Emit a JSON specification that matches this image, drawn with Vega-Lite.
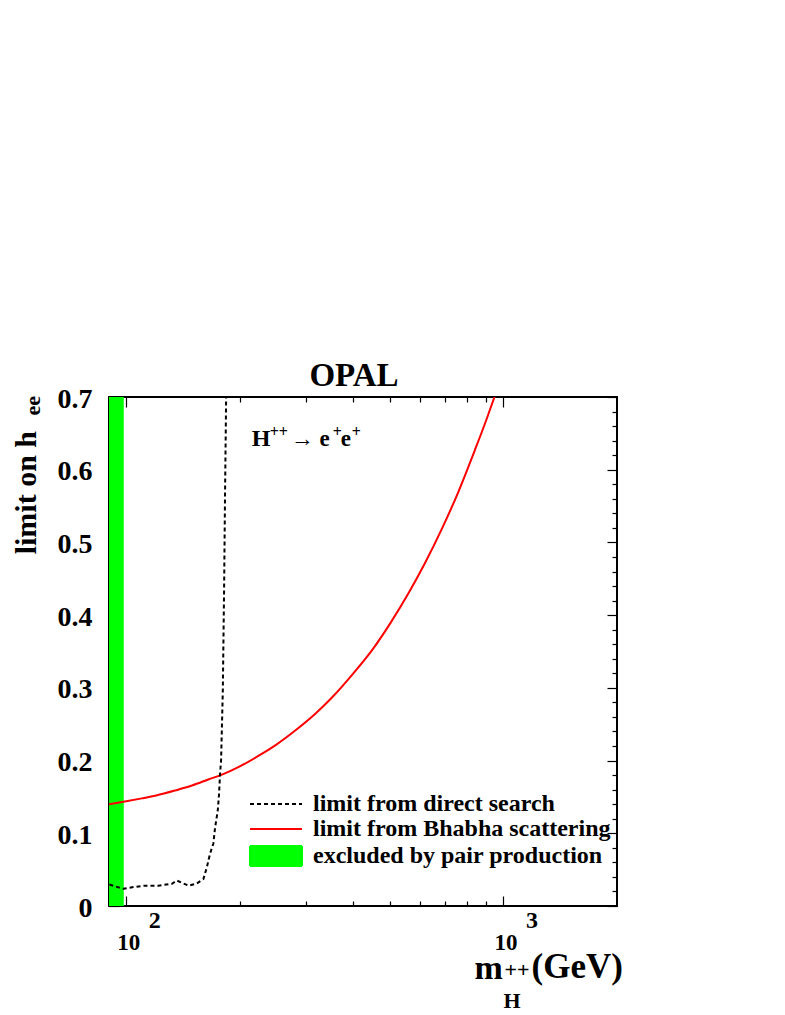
{
  "$schema": "https://vega.github.io/schema/vega-lite/v6.json",
  "autosize": "none",
  "width": 508,
  "height": 509,
  "padding": {"left": 109, "top": 397, "right": 168, "bottom": 109},
  "background": "white",
  "config": {
    "view": {"stroke": "black", "strokeWidth": 2},
    "font": "Liberation Serif",
    "axis": {
      "labelFont": "Liberation Serif",
      "labelFontWeight": "bold",
      "labelColor": "black",
      "titleFont": "Liberation Serif",
      "titleFontWeight": "bold",
      "titleColor": "black",
      "tickColor": "black",
      "tickWidth": 1.2,
      "grid": false,
      "domain": false,
      "labelOverlap": false,
      "labelFlush": false,
      "zindex": 1
    },
    "text": {"font": "Liberation Serif", "fontWeight": "bold", "align": "left", "baseline": "alphabetic", "color": "black"}
  },
  "title": {
    "text": "OPAL",
    "font": "Liberation Serif",
    "fontWeight": "bold",
    "fontSize": 33,
    "color": "black",
    "anchor": "middle",
    "baseline": "alphabetic",
    "offset": 10,
    "dx": -9,
    "dy": 44
  },
  "datasets": {
    "band": [{"m0": 90, "m1": 98.5}],
    "bhabha": [
      {"m": 90, "h": 0.140},
      {"m": 100, "h": 0.144},
      {"m": 110, "h": 0.148},
      {"m": 120, "h": 0.152},
      {"m": 135, "h": 0.159},
      {"m": 150, "h": 0.166},
      {"m": 165, "h": 0.174},
      {"m": 180, "h": 0.181},
      {"m": 200, "h": 0.192},
      {"m": 225, "h": 0.207},
      {"m": 250, "h": 0.222},
      {"m": 280, "h": 0.241},
      {"m": 315, "h": 0.263},
      {"m": 350, "h": 0.286},
      {"m": 400, "h": 0.320},
      {"m": 450, "h": 0.353},
      {"m": 500, "h": 0.388},
      {"m": 560, "h": 0.430},
      {"m": 620, "h": 0.472},
      {"m": 690, "h": 0.521},
      {"m": 760, "h": 0.570},
      {"m": 840, "h": 0.627},
      {"m": 900, "h": 0.668},
      {"m": 948, "h": 0.701}
    ],
    "direct": [
      {"m": 90.2, "h": 0.0296},
      {"m": 93.5, "h": 0.027},
      {"m": 98.4, "h": 0.0236},
      {"m": 104.5, "h": 0.026},
      {"m": 112.3, "h": 0.028},
      {"m": 121.7, "h": 0.028},
      {"m": 132.1, "h": 0.0305},
      {"m": 136.2, "h": 0.035},
      {"m": 141.8, "h": 0.031},
      {"m": 146.2, "h": 0.028},
      {"m": 153.8, "h": 0.031},
      {"m": 160.1, "h": 0.037},
      {"m": 163.5, "h": 0.053},
      {"m": 166.8, "h": 0.072},
      {"m": 170.2, "h": 0.086},
      {"m": 172.0, "h": 0.108},
      {"m": 174.8, "h": 0.131},
      {"m": 176.2, "h": 0.154},
      {"m": 177.3, "h": 0.182},
      {"m": 178.4, "h": 0.200},
      {"m": 180.3, "h": 0.296},
      {"m": 181.7, "h": 0.434},
      {"m": 182.8, "h": 0.571},
      {"m": 184.0, "h": 0.700}
    ]
  },
  "layer": [
    {
      "data": {"name": "band"},
      "mark": {"type": "rect"},
      "encoding": {
        "x": {
          "field": "m0", "type": "quantitative",
          "scale": {"type": "log", "domain": [90, 2000], "nice": false},
          "axis": {
            "orient": "bottom", "values": [100, 1000], "labelExpr": "'10'",
            "tickSize": -10, "labelPadding": 53.5, "labelBaseline": "alphabetic",
            "labelAlign": "center", "labelOffset": 2, "labelFontSize": 23,
            "title": "m", "titleFontSize": 34, "titleX": 365, "titleY": 72,
            "titleAlign": "left", "titleBaseline": "alphabetic"
          }
        },
        "x2": {"field": "m1"},
        "y": {
          "datum": 0, "type": "quantitative",
          "scale": {"domain": [0, 0.7], "nice": false},
          "axis": {
            "orient": "left", "values": [0, 0.1, 0.2, 0.3, 0.4, 0.5, 0.6, 0.7],
            "labelExpr": "datum.value == 0 ? '0' : format(datum.value, '.1f')",
            "tickSize": -10, "labelPadding": 27, "labelFontSize": 28,
            "labelBaseline": "middle", "labelOffset": 2,
            "title": "limit on h", "titleFontSize": 30, "titleAngle": 270,
            "titleAlign": "right", "titleBaseline": "alphabetic",
            "titleX": -74, "titleY": 33.5
          }
        },
        "y2": {"datum": 0.7},
        "color": {
          "datum": "excluded by pair production", "type": "nominal",
          "scale": {
            "domain": ["limit from direct search", "limit from Bhabha scattering", "excluded by pair production"],
            "range": ["#000000", "#ff0000", "#00ff00"]
          },
          "legend": {
            "orient": "none", "legendX": 129, "legendY": 395, "title": null,
            "symbolSize": 400, "labelOffset": 51, "labelFontSize": 24,
            "labelFont": "Liberation Serif", "labelFontWeight": "bold",
            "labelColor": "black", "labelLimit": 500, "rowPadding": 1,
            "padding": 0,
            "encode": {
              "symbols": {
                "update": {
                  "shape": {"signal": "datum.value === 'excluded by pair production' ? 'M0,-1H5.2V1H0Z' : 'M0,0H5.2'"},
                  "fill": {"signal": "datum.value === 'excluded by pair production' ? '#00ff00' : 'transparent'"},
                  "stroke": {"signal": "datum.value === 'limit from Bhabha scattering' ? '#ff0000' : (datum.value === 'limit from direct search' ? '#000000' : 'transparent')"},
                  "strokeDash": {"signal": "datum.value === 'limit from direct search' ? [4, 3] : [1, 0]"},
                  "strokeWidth": {"value": 2},
                  "opacity": {"value": 1}
                }
              }
            }
          }
        }
      }
    },
    {
      "data": {"name": "bhabha"},
      "mark": {"type": "line", "strokeWidth": 2, "interpolate": "monotone", "clip": true},
      "encoding": {
        "x": {
          "field": "m", "type": "quantitative",
          "axis": {
            "orient": "bottom", "values": [200, 300, 400, 500, 600, 700, 800, 900],
            "tickSize": -5, "labels": false,
            "title": "H", "titleFontSize": 22, "titleX": 394, "titleY": 101.5,
            "titleAlign": "left", "titleBaseline": "alphabetic"
          }
        },
        "y": {
          "field": "h", "type": "quantitative",
          "axis": {
            "orient": "left",
            "values": [0.02, 0.04, 0.06, 0.08, 0.12, 0.14, 0.16, 0.18, 0.22, 0.24, 0.26, 0.28, 0.32, 0.34, 0.36, 0.38, 0.42, 0.44, 0.46, 0.48, 0.52, 0.54, 0.56, 0.58, 0.62, 0.64, 0.66, 0.68],
            "tickSize": -5, "labels": false,
            "title": "ee", "titleFontSize": 22, "titleAngle": 270,
            "titleAlign": "right", "titleBaseline": "alphabetic",
            "titleX": -70, "titleY": -1.5
          }
        },
        "color": {"datum": "limit from Bhabha scattering", "type": "nominal"}
      }
    },
    {
      "data": {"name": "direct"},
      "mark": {"type": "line", "strokeWidth": 2, "strokeDash": [4, 3], "clip": true},
      "encoding": {
        "x": {
          "field": "m", "type": "quantitative",
          "axis": {
            "orient": "top", "values": [100, 1000],
            "tickSize": -10, "labels": false, "title": null
          }
        },
        "y": {
          "field": "h", "type": "quantitative",
          "axis": {
            "orient": "right", "values": [0, 0.1, 0.2, 0.3, 0.4, 0.5, 0.6, 0.7],
            "tickSize": -10, "labels": false,
            "title": "(GeV)", "titleFontSize": 35, "titleAngle": 0,
            "titleX": -86, "titleY": 580.5,
            "titleAlign": "left", "titleBaseline": "alphabetic"
          }
        },
        "color": {"datum": "limit from direct search", "type": "nominal"}
      }
    },
    {
      "data": {"name": "direct"},
      "mark": {"type": "point", "opacity": 0},
      "encoding": {
        "x": {
          "field": "m", "type": "quantitative",
          "axis": {
            "orient": "top", "values": [200, 300, 400, 500, 600, 700, 800, 900],
            "tickSize": -5, "labels": false, "title": null
          }
        },
        "y": {
          "field": "h", "type": "quantitative",
          "axis": {
            "orient": "right",
            "values": [0.02, 0.04, 0.06, 0.08, 0.12, 0.14, 0.16, 0.18, 0.22, 0.24, 0.26, 0.28, 0.32, 0.34, 0.36, 0.38, 0.42, 0.44, 0.46, 0.48, 0.52, 0.54, 0.56, 0.58, 0.62, 0.64, 0.66, 0.68],
            "tickSize": -5, "labels": false, "title": null
          }
        }
      }
    },
    {
      "data": {"name": "bhabha"},
      "mark": {"type": "point", "opacity": 0},
      "encoding": {
        "x": {
          "field": "m", "type": "quantitative",
          "axis": {
            "orient": "bottom", "values": [100, 1000], "ticks": false, "tickSize": 0,
            "labelExpr": "datum.value == 100 ? '2' : '3'",
            "labelPadding": 21.5, "labelBaseline": "alphabetic", "labelAlign": "center",
            "labelOffset": 28, "labelFontSize": 24,
            "title": "++", "titleFontSize": 22, "titleX": 395, "titleY": 70,
            "titleAlign": "left", "titleBaseline": "alphabetic"
          }
        },
        "y": {"field": "h", "type": "quantitative", "axis": null}
      }
    },
    {
      "data": {"values": [{"t": "H"}]},
      "mark": {"type": "text", "fontSize": 24},
      "encoding": {
        "x": {"datum": 215, "type": "quantitative", "axis": null},
        "y": {"datum": 0.633, "type": "quantitative", "axis": null},
        "text": {"field": "t"}
      }
    },
    {
      "data": {"values": [{"t": "++"}]},
      "mark": {"type": "text", "fontSize": 16, "dx": 18, "dy": -9},
      "encoding": {
        "x": {"datum": 215, "type": "quantitative", "axis": null},
        "y": {"datum": 0.633, "type": "quantitative", "axis": null},
        "text": {"field": "t"}
      }
    },
    {
      "data": {"values": [{"t": "→ e"}]},
      "mark": {"type": "text", "fontSize": 23, "dx": 39},
      "encoding": {
        "x": {"datum": 215, "type": "quantitative", "axis": null},
        "y": {"datum": 0.633, "type": "quantitative", "axis": null},
        "text": {"field": "t"}
      }
    },
    {
      "data": {"values": [{"t": "+"}]},
      "mark": {"type": "text", "fontSize": 16, "dx": 81, "dy": -9},
      "encoding": {
        "x": {"datum": 215, "type": "quantitative", "axis": null},
        "y": {"datum": 0.633, "type": "quantitative", "axis": null},
        "text": {"field": "t"}
      }
    },
    {
      "data": {"values": [{"t": "e"}]},
      "mark": {"type": "text", "fontSize": 23, "dx": 89},
      "encoding": {
        "x": {"datum": 215, "type": "quantitative", "axis": null},
        "y": {"datum": 0.633, "type": "quantitative", "axis": null},
        "text": {"field": "t"}
      }
    },
    {
      "data": {"values": [{"t": "+"}]},
      "mark": {"type": "text", "fontSize": 16, "dx": 100, "dy": -9},
      "encoding": {
        "x": {"datum": 215, "type": "quantitative", "axis": null},
        "y": {"datum": 0.633, "type": "quantitative", "axis": null},
        "text": {"field": "t"}
      }
    }
  ],
  "resolve": {"axis": {"x": "independent", "y": "independent"}}
}
